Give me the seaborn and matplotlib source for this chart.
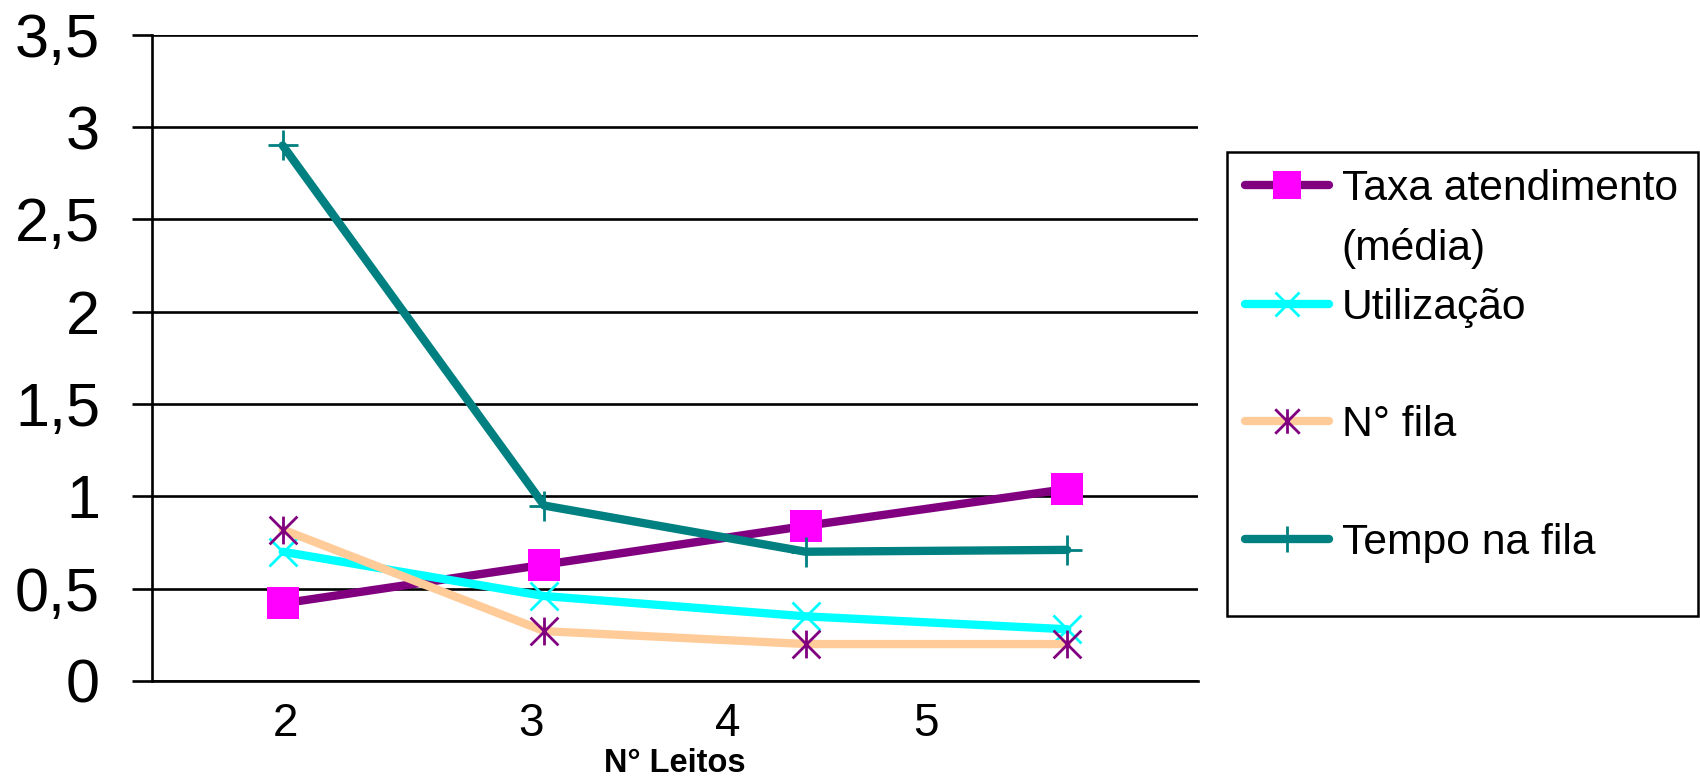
import numpy as np
import matplotlib
matplotlib.use("Agg")
import matplotlib.pyplot as plt
from matplotlib.path import Path
from matplotlib.lines import Line2D
from matplotlib.patches import Rectangle
import seaborn as sns

# Number of beds (categories) and the four measured series
leitos = ["2", "3", "4", "5"]
taxa_atendimento = [0.42, 0.63, 0.84, 1.04]
utilizacao = [0.70, 0.46, 0.35, 0.28]
n_fila = [0.82, 0.27, 0.20, 0.20]
tempo_fila = [2.90, 0.95, 0.70, 0.71]

y_ticks = [0, 0.5, 1, 1.5, 2, 2.5, 3, 3.5]
y_tick_labels = ["0", "0,5", "1", "1,5", "2", "2,5", "3", "3,5"]

sns.set_style("white")
plt.rcParams["font.family"] = ["Liberation Sans", "DejaVu Sans"]
for key in ["text.color", "axes.labelcolor", "xtick.color", "ytick.color"]:
    plt.rcParams[key] = "black"

fig = plt.figure(figsize=(17, 7.78), dpi=100)
ax = fig.add_axes([0.0894, 0.1247, 0.6153, 0.8307])

x = np.arange(len(leitos))

# Excel-style asterisk: vertical bar plus an X
asterisk = Path([(0, -1), (0, 1), (-1, -1), (1, 1), (-1, 1), (1, -1)],
                [Path.MOVETO, Path.LINETO] * 3)

series = [
    dict(label="Taxa atendimento", values=taxa_atendimento, color="#800080",
         marker="s", ms=23, mfc="#FF00FF", mec="#FF00FF", mew=0),
    dict(label="Utilização", values=utilizacao, color="#00FFFF",
         marker="x", ms=20, mfc="none", mec="#00FFFF", mew=2),
    dict(label="N° fila", values=n_fila, color="#FFCC99",
         marker=asterisk, ms=20, mfc="none", mec="#800080", mew=2),
    dict(label="Tempo na fila", values=tempo_fila, color="#008080",
         marker="+", ms=21, mfc="none", mec="#008080", mew=2),
]

LW = 6.0
for s in series:
    sns.lineplot(x=x, y=s["values"], ax=ax, color=s["color"], lw=LW,
                 marker=s["marker"], markersize=s["ms"],
                 markerfacecolor=s["mfc"], markeredgecolor=s["mec"],
                 markeredgewidth=s["mew"], legend=False, zorder=3)

ax.set_xlim(-0.5, len(leitos) - 0.5)
ax.set_ylim(0, 3.5)
ax.set_yticks(y_ticks, y_tick_labels)
ax.set_xticks([0.01, 0.95, 1.70, 2.46], leitos)

ax.yaxis.grid(True, color="black", lw=1.9)
ax.xaxis.grid(False)
for side in ["top", "right"]:
    ax.spines[side].set_visible(False)
for side in ["left", "bottom"]:
    ax.spines[side].set_color("black")
    ax.spines[side].set_linewidth(1.9)

ax.tick_params(axis="y", direction="out", length=14.4, width=1.9,
               color="black", pad=23, labelsize=44, left=True)
ax.tick_params(axis="x", length=0, pad=15, labelsize=33)

ax.set_xlabel("N° Leitos", fontsize=23.5, fontweight="bold")
ax.xaxis.set_label_coords(0.5, -0.127)
ax.xaxis.label.set_va("center")

# Legend
blank = Line2D([], [], linestyle="none")
h = [Line2D([], [], color=s["color"], lw=LW, marker=s["marker"],
            markersize=s["ms"] * 0.88, markerfacecolor=s["mfc"],
            markeredgecolor=s["mec"], markeredgewidth=s["mew"])
     for s in series]
handles = [h[0], blank, h[1], blank, h[2], blank, h[3]]
labels = ["Taxa atendimento", "(média)", "Utilização", "", "N° fila", "",
          "Tempo na fila"]
fig.legend(handles, labels, loc="upper left",
           bbox_to_anchor=(1245 / 1700, 1 - 169 / 778),
           bbox_transform=fig.transFigure, frameon=False, fontsize=30.7,
           handlelength=1.97, handletextpad=0.3, labelspacing=0.44,
           borderpad=0, borderaxespad=0, numpoints=1)
fig.add_artist(Rectangle((1227 / 1700, 1 - 616 / 778), (1698 - 1227) / 1700,
                         (616 - 152) / 778, transform=fig.transFigure,
                         fill=False, edgecolor="black", lw=1.8))

fig.savefig("out.png", dpi=100)
